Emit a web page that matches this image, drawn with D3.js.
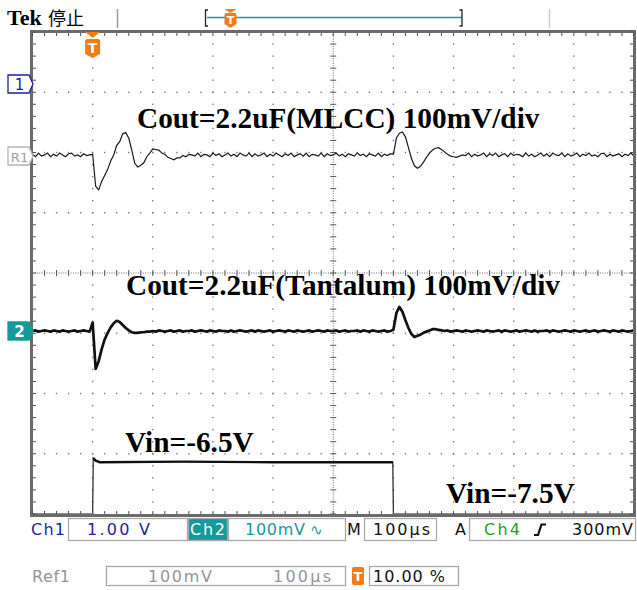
<!DOCTYPE html>
<html><head><meta charset="utf-8">
<script src="https://cdn.jsdelivr.net/npm/d3@7"></script>
<style>body{margin:0;background:#fff;} svg{display:block}</style>
</head><body><svg id="c" width="637" height="590"></svg>
<script>
// ---------------- DATA ----------------
const timeDomain = [-100, 900];      // µs (100 µs/div, trigger at 10 %)
const divDomain = [-4, 4];           // vertical divisions
const sampleStep = 5;                // µs between samples
// Ref1 : Cout = 2.2uF MLCC, mV (100 mV/div) relative to its baseline, from t=-100 µs
const r1mV = [
 1,-3,3,-2,0,3,-3,1,-2,3,0,-3,2,3,-2,0,-3,2,-1,0,
 1,
 -52,-58,-44,-34,-24,-10,0,16,22,35,37,28,8,-14,-20,-17,-13,-3,3,10,9,8,3,1,-4,-6,-8,-5,-5,-1,-3,1,0,
 -2,3,-3,1,0,-3,3,-1,2,-3, 0,3,-2,1,-3,3,0,-2,3,-3, 2,-2,0,3,-3,1,-2,3,0,-3,
 2,-1,3,-3,0,2,-2,3,-3,1, 0,-2,3,-3,2,-1,0,3,-2,1, -3,2,0,-2,3,-1,1,-3,2,0, -2,3,-3,1,-1,2,
 1,
 28,36,38,30,12,-6,-18,-22,-19,-12,-4,3,8,11,12,9,5,1,-2,-3,-4,-2,0,-1,
 3,-3,1,-2,0,3,-3,2,-1,3, -3,0,2,-3,3,-1,1,0,-3,3, -2,1,-3,0,3,-2,2,-3,3,0,
 -1,3,-3,2,-2,0,3,-3,1,-1, 3,-2,0,-3,2,3,-3,1,-2,0, 2,-3,1,-1,3,-2
];
// Ch2 : Cout = 2.2uF Tantalum, mV (100 mV/div)
const ch2mV = [
 0,1,-1,0,1,0,-1,1,0,-1,1,0,-1,0,1,-1,0,1,0,-1,
 14,
 -63,-50,-30,-14,-3,6,13,17,15,10,5,1,-2,-3,-3,-2,-2,-1,-1,
 0,-1,1,0,-1,0,1,-1,0,1, -1,0,0,1,-1,0,1,0,-1,1, 0,-1,1,0,0,-1,1,-1,0,1,
 0,-1,0,1,-1,1,0,-1,0,1, -1,0,1,0,-1,1,0,-1,1,0, -1,0,1,-1,0,1,0,-1,1,0,
 0,1,-1,0,1,-1,0,0,1,-1, 1,0,-1,1,0,-1,0,1,-1,0,
 2,
 30,40,32,18,5,-5,-10,-8,-6,-3,-1,1,3,3,2,1,
 0,1,-1,0,1,0,-1,1,0,-1, 0,1,0,-1,1,0,-1,0,1,-1, 1,0,-1,0,1,-1,0,1,0,-1, 1,-1,0,0,1,-1,1,0,-1,0,
 1,0,-1,1,0,-1,0,1,-1,0, 1,-1,0,1,0,-1,1,0,-1,1, 0,-1,0,1
];
// Vin (Ch4) : [time µs, volts]
const vinPts = [[-100,-7.5],[0,-7.5],[1,-6.42],[5,-6.47],[12,-6.5],[150,-6.49],[300,-6.5],[499,-6.5],[500,-7.5],[900,-7.5]];
const labels = [
  {text:"Cout=2.2uF(MLCC) 100mV/div", x:137, y:128},
  {text:"Cout=2.2uF(Tantalum) 100mV/div", x:126, y:295},
  {text:"Vin=-6.5V", x:125, y:452},
  {text:"Vin=-7.5V", x:446, y:503}
];
const r1Offset = 1.96, ch2Offset = -0.963;   // trace positions (div)

// ---------------- SCALES ----------------
const svg = d3.select('#c');
const X = d3.scaleLinear().domain(timeDomain).range([32.5, 634]);
const Y = d3.scaleLinear().domain(divDomain).range([514, 32]);
const vinDiv = d3.scaleLinear().domain([-7.5, -6.5]).range([-4, -3.14]);
const BLUE = '#1f1f9e', TEAL = '#159a9a', GREEN = '#22a022', ORANGE = '#f07c12', GRAY = '#959595';

// ---------------- GRATICULE ----------------
const grid = svg.append('g');
const majT = d3.range(0, 900, 100);
const majV = d3.range(-3, 4, 1);
const minT = d3.range(-100, 900.1, 20);
const minV = d3.range(-4, 4.01, 0.2);
const dots = [];
majT.forEach(t => { if (t !== 400) minV.forEach(v => dots.push([X(t), Y(v)])); });
majV.forEach(v => { if (v !== 0) minT.forEach(t => dots.push([X(t), Y(v)])); });
grid.selectAll('rect.d').data(dots).join('rect').attr('class','d')
  .attr('x', d => d[0]-0.7).attr('y', d => d[1]-0.7).attr('width',1.4).attr('height',1.4).attr('fill','#7a7a7a');
const fineV = d3.range(-4, 4.001, 0.04), fineT = d3.range(-100, 900.1, 4);
grid.selectAll('rect.cv').data(fineV).join('rect').attr('class','cv')
  .attr('x', X(400)-0.5).attr('y', v => Y(v)-0.5).attr('width',1).attr('height',1).attr('fill','#666');
grid.selectAll('rect.ch').data(fineT).join('rect').attr('class','ch')
  .attr('x', t => X(t)-0.5).attr('y', Y(0)-0.5).attr('width',1).attr('height',1).attr('fill','#666');
grid.selectAll('line.cvt').data(minV).join('line').attr('class','cvt')
  .attr('x1', X(400)-3).attr('x2', X(400)+3).attr('y1', v=>Y(v)).attr('y2', v=>Y(v)).attr('stroke','#555').attr('stroke-width',1);
grid.selectAll('line.cht').data(minT).join('line').attr('class','cht')
  .attr('y1', Y(0)-3).attr('y2', Y(0)+3).attr('x1', t=>X(t)).attr('x2', t=>X(t)).attr('stroke','#555').attr('stroke-width',1);

// ---------------- TRACES ----------------
const tr = svg.append('g');
const line = d3.line().x(d => X(d[0])).y(d => Y(d[1]));
const r1Pts = r1mV.map((v,i) => [timeDomain[0] + i*sampleStep, r1Offset + v/100]);
const ch2Pts = ch2mV.map((v,i) => [timeDomain[0] + i*sampleStep, ch2Offset + v/100]);
tr.append('path').attr('d', line(r1Pts)).attr('fill','none').attr('stroke','#1a1a1a').attr('stroke-width',1.2);
tr.append('path').attr('d', line(ch2Pts)).attr('fill','none').attr('stroke','#111').attr('stroke-width',2.7).attr('stroke-linejoin','round');
const vinD = vinPts.map(d => [d[0], vinDiv(d[1])]);
tr.append('path').attr('d', line(vinD)).attr('fill','none').attr('stroke','#222').attr('stroke-width',1.2);
tr.append('path').attr('d', line(vinD.filter(d => d[1] > -3.9))).attr('fill','none').attr('stroke','#111').attr('stroke-width',2.4);

// ---------------- BORDER ----------------
const bx0 = 31.5, by0 = 31.5, bx1 = 634.5, by1 = 515.5;
svg.append('rect').attr('x',bx0).attr('y',by0).attr('width',bx1-bx0).attr('height',by1-by0)
  .attr('fill','none').attr('stroke','#6a6a6a').attr('stroke-width',3);
const bt = svg.append('g').attr('stroke','#505050').attr('stroke-width',1);
bt.selectAll('line.t').data(minT).join('line').attr('x1',t=>X(t)).attr('x2',t=>X(t)).attr('y1',33).attr('y2',36);
bt.selectAll('line.b').data(minT).join('line').attr('x1',t=>X(t)).attr('x2',t=>X(t)).attr('y1',511).attr('y2',514);
bt.selectAll('line.l').data(minV).join('line').attr('y1',v=>Y(v)).attr('y2',v=>Y(v)).attr('x1',33).attr('x2',36);
bt.selectAll('line.r').data(minV).join('line').attr('y1',v=>Y(v)).attr('y2',v=>Y(v)).attr('x1',630).attr('x2',633);

// ---------------- LABELS ----------------
svg.selectAll('text.lab').data(labels).join('text').attr('class','lab')
  .attr('x', d=>d.x).attr('y', d=>d.y).text(d=>d.text)
  .attr('font-family','"Liberation Serif", serif').attr('font-weight','bold').attr('font-size',29.3).attr('fill','#000');

// ---------------- MARKERS ----------------
function shield(cx, top, w, h){ return `M${cx-w/2},${top+2} Q${cx-w/2},${top} ${cx-w/2+2},${top} L${cx+w/2-2},${top} Q${cx+w/2},${top} ${cx+w/2},${top+2} L${cx+w/2},${top+h-4} L${cx},${top+h} L${cx-w/2},${top+h-4} Z`; }
function tMark(cx, triTop, triH, top, w, h, fs){
  const g = svg.append('g');
  g.append('path').attr('d',`M${cx-w/2},${triTop} L${cx+w/2},${triTop} L${cx},${triTop+triH} Z`).attr('fill',ORANGE);
  g.append('path').attr('d',shield(cx,top,w,h)).attr('fill',ORANGE);
  g.append('text').attr('x',cx).attr('y',top+h*0.72).attr('text-anchor','middle').attr('fill','#fff')
   .attr('font-family','"DejaVu Sans", sans-serif').attr('font-weight','bold').attr('font-size',fs).text('T');
}
tMark(X(0), 32, 6, 39, 15, 19, 14);

function chMark(cy, stroke, fill, txt, txtFill, fs, fw){
  const g = svg.append('g');
  g.append('path').attr('d',`M8,${cy-9} L29,${cy-9} L33,${cy} L29,${cy+9} L8,${cy+9} Z`)
    .attr('fill',fill).attr('stroke',stroke).attr('stroke-width',1.3);
  g.append('text').attr('x',19.5).attr('y',cy+5.5).attr('text-anchor','middle').attr('fill',txtFill)
   .attr('font-family','"DejaVu Sans", sans-serif').attr('font-weight',fw||'normal').attr('font-size',fs).text(txt);
}
chMark(84, BLUE, '#fff', '1', BLUE, 15);
chMark(156, '#b5b5b5', '#fff', 'R1', '#a0a0a0', 13);
chMark(331, TEAL, TEAL, '2', '#fff', 15, 'bold');

// ---------------- TOP BAR ----------------
svg.append('text').attr('x',7).attr('y',25).text('Tek')
  .attr('font-family','"Liberation Serif", serif').attr('font-weight','bold').attr('font-size',22);
svg.append('text').attr('x',48).attr('y',25).text('停止')
  .attr('font-family','"Noto Sans CJK SC", sans-serif').attr('font-size',18);
svg.append('line').attr('x1',117.5).attr('x2',117.5).attr('y1',9).attr('y2',28).attr('stroke','#999').attr('stroke-width',1.5);
svg.append('line').attr('x1',549.5).attr('x2',549.5).attr('y1',9).attr('y2',28).attr('stroke','#ccc').attr('stroke-width',1.5);
svg.append('line').attr('x1',207).attr('x2',462).attr('y1',17.5).attr('y2',17.5).attr('stroke',TEAL).attr('stroke-width',1.5);
svg.append('path').attr('d','M208,10 L205.5,10 L205.5,26 L208,26').attr('fill','none').attr('stroke','#222').attr('stroke-width',1.3);
svg.append('path').attr('d','M459.5,10 L462,10 L462,26 L459.5,26').attr('fill','none').attr('stroke','#222').attr('stroke-width',1.3);
tMark(230.5, 9, 4, 13, 12, 15, 11);

// ---------------- STATUS ----------------
const ff = '"DejaVu Sans", sans-serif';
function box(x0,y0,x1,y1,fill){ svg.append('rect').attr('x',x0+0.5).attr('y',y0+0.5).attr('width',x1-x0).attr('height',y1-y0)
  .attr('fill',fill||'#fff').attr('stroke','#a8a8a8').attr('stroke-width',1.3); }
function txt(s,x,y,len,col,fs){ const t = svg.append('text').attr('x',x).attr('y',y).text(s).attr('fill',col)
  .attr('font-family',ff).attr('font-size',fs||16); if(len) t.attr('textLength',len).attr('lengthAdjust','spacing'); return t; }
box(68,518,187,540); box(188,518,227,540,TEAL); box(228,518,345,540); box(364,518,436,540); box(469,518,635,540);
txt('Ch1',31,535,34,BLUE);
txt('1.00 V',87,535,63,BLUE);
txt('Ch2',190,535,35,'#fff');
txt('100mV',245,535,60,TEAL);
txt('∿',310,535,null,TEAL,15);
txt('M',347,535,15,'#111');
txt('100µs',373,535,57,'#111');
txt('A',455,535,12,'#111');
txt('Ch4',484,535,36,GREEN);
svg.append('path').attr('d','M534,535 L538,535 L541.5,524.5 L546,524.5').attr('fill','none').attr('stroke','#111').attr('stroke-width',2.2);
txt('300mV',572,535,61,'#111');
txt('Ref1',32,582,38,GRAY);
box(106,566,345,585);
txt('100mV',148,582,64,GRAY);
txt('100µs',273,582,58,GRAY);
svg.append('rect').attr('x',352).attr('y',567).attr('width',12).attr('height',18).attr('rx',2).attr('fill',ORANGE);
svg.append('text').attr('x',358).attr('y',581).attr('text-anchor','middle').attr('fill','#fff').attr('font-family',ff).attr('font-weight','bold').attr('font-size',13).text('T');
box(369,566,458,585);
txt('10.00 %',373,582,72,'#111');
</script></body></html>
